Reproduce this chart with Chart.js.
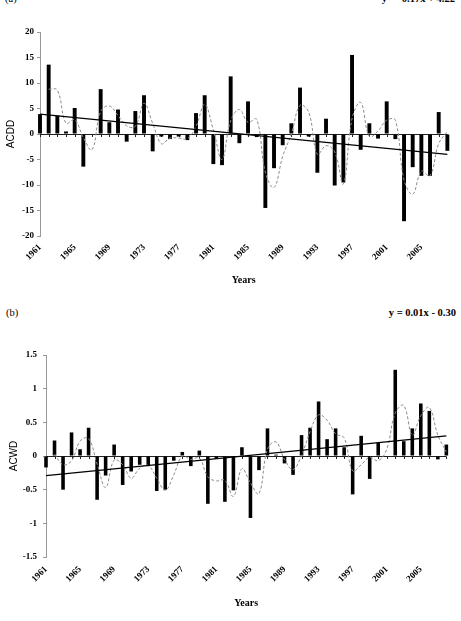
<!DOCTYPE html>
<html>
<head>
<meta charset="utf-8">
<script src="https://cdn.jsdelivr.net/npm/chart.js@4/dist/chart.umd.min.js"></script>
<style>
    body { margin: 0; background: #fff; }
    #page { position: relative; width: 461px; height: 621px; overflow: hidden; background: #fff; }
    canvas { position: absolute; left: 0; }
    .note { position: absolute; font-family: 'Liberation Serif', serif; font-size: 10.5px; color: #000; white-space: nowrap; }
</style>
</head>
<body>
<div id="page">
    <div class="note" style="left:5px; top:-7px;">(a)</div>
    <div class="note" style="right:6px; top:-7px; font-weight:bold;">y = -0.17x + 4.22</div>
    <canvas id="acddChart" width="461" height="300" style="top:0;"></canvas>

    <div class="note" style="left:6px; top:307px;">(b)</div>
    <div class="note" style="right:5px; top:307px; font-weight:bold;">y = 0.01x - 0.30</div>
    <canvas id="acwdChart" width="461" height="321" style="top:300px;"></canvas>
</div>
<script>
// Data
const years = ['1961', '1962', '1963', '1964', '1965', '1966', '1967', '1968', '1969', '1970',
    '1971', '1972', '1973', '1974', '1975', '1976', '1977', '1978', '1979', '1980',
    '1981', '1982', '1983', '1984', '1985', '1986', '1987', '1988', '1989', '1990',
    '1991', '1992', '1993', '1994', '1995', '1996', '1997', '1998', '1999', '2000',
    '2001', '2002', '2003', '2004', '2005', '2006', '2007', '2008'];

// (a) ACDD anomalies
const acdd = [3.9, 13.6, 3.6, 0.5, 5.1, -6.4, 0, 8.8, 2.3, 4.8,
    -1.5, 4.5, 7.6, -3.4, -0.5, -1.0, -0.5, -1.2, 4.1, 7.6,
    -5.9, -6.1, 11.3, -1.8, 6.4, -0.6, -14.5, -6.7, -2.2, 2.1,
    9.1, -0.5, -7.6, 3.0, -10.1, -9.5, 15.5, -3.1, 2.1, -0.9,
    6.4, -1.0, -17.1, -6.5, -8.2, -8.2, 4.3, -3.3];
const acddSmooth = [null, 8.8, 8.6, 2.1, 2.8, -0.7, -3.1, 4.4, 5.5, 3.6,
    1.6, 1.5, 6.0, 2.1, -1.9, -0.8, -0.8, -0.9, 1.5, 5.8,
    0.8, -5.0, 2.6, 4.8, 2.3, 2.9, -7.5, -10.5, -4.4, 0.0,
    5.6, 4.3, -4.0, -2.3, -3.5, -9.8, 3.0, 6.2, -0.5, 0.6,
    2.7, 2.7, -9.0, -11.8, -7.3, -8.2, -1.9, 0.5];
const acddTrendEnds = [3.9, -4.0];

// (b) ACWD anomalies
const acwd = [-0.17, 0.23, -0.5, 0.35, 0.1, 0.42, -0.65, -0.29, 0.17, -0.43,
    -0.23, -0.13, -0.15, -0.52, -0.5, -0.07, 0.06, -0.15, 0.08, -0.71,
    -0.04, -0.68, -0.51, 0.13, -0.92, -0.21, 0.41, 0.02, -0.11, -0.28,
    0.31, 0.42, 0.81, 0.25, 0.41, 0.13, -0.57, 0.3, -0.34, 0.2,
    0.0, 1.28, 0.22, 0.41, 0.78, 0.67, -0.05, 0.17];
const acwdSmooth = [null, 0.03, -0.13, -0.07, 0.22, 0.26, -0.12, -0.47, -0.06, -0.13,
    -0.33, -0.18, -0.14, -0.33, -0.51, -0.28, 0.0, -0.05, -0.03, -0.31,
    -0.37, -0.36, -0.6, -0.19, -0.4, -0.56, 0.1, 0.21, -0.05, -0.2,
    0.01, 0.36, 0.61, 0.53, 0.33, 0.27, -0.22, -0.13, -0.02, -0.07,
    0.1, 0.64, 0.75, 0.31, 0.6, 0.72, 0.31, 0.06];
const acwdTrendEnds = [-0.29, 0.30];

const tickFont = { family: 'Liberation Serif', size: 9, weight: 'bold' };

// zero line with small year ticks, like the category axis in the original
const zeroLinePlugin = {
    id: 'zeroLine',
    beforeDatasetsDraw(chart) {
        const { ctx, chartArea, scales } = chart;
        const y0 = Math.round(scales.y.getPixelForValue(0)) + 0.5;
        ctx.save();
        ctx.strokeStyle = '#222';
        ctx.lineWidth = 1;
        ctx.beginPath();
        ctx.moveTo(chartArea.left, y0);
        ctx.lineTo(chartArea.right, y0);
        for (let i = 0; i < years.length; i++) {
            const x = Math.round(scales.x.getPixelForValue(i)) + 0.5;
            ctx.moveTo(x, y0);
            ctx.lineTo(x, y0 + 2.5);
        }
        ctx.stroke();
        ctx.restore();
    }
};

function makeChart(canvasId, opts) {
    const n = years.length;
    return new Chart(document.getElementById(canvasId), {
        type: 'bar',
        data: {
            labels: years,
            datasets: [
                {
                    type: 'line',
                    data: [{ x: years[0], y: opts.trend[0] }, { x: years[n - 1], y: opts.trend[1] }],
                    borderColor: '#000',
                    borderWidth: 1.3,
                    pointRadius: 0,
                    order: 0
                },
                {
                    type: 'line',
                    data: opts.smooth,
                    borderColor: '#8c8c8c',
                    borderWidth: 1,
                    borderDash: [3, 2],
                    tension: 0.4,
                    pointRadius: 0,
                    order: 1
                },
                {
                    data: opts.values,
                    backgroundColor: '#000',
                    barPercentage: opts.barPct,
                    categoryPercentage: 1,
                    clip: false,
                    order: 2
                }
            ]
        },
        options: {
            responsive: false,
            animation: false,
            layout: { padding: opts.padding },
            plugins: {
                legend: { display: false },
                tooltip: { enabled: false }
            },
            scales: {
                x: {
                    offset: false,
                    grid: { display: false, drawTicks: false },
                    border: { display: false },
                    ticks: {
                        autoSkip: false,
                        maxRotation: 45,
                        minRotation: 45,
                        padding: opts.xTickPad,
                        color: '#000',
                        font: tickFont,
                        callback: (v, i) => (i % 4 === 0 ? years[i] : '')
                    },
                    title: {
                        display: true,
                        text: 'Years',
                        color: '#000',
                        font: { family: 'Liberation Serif', size: 10, weight: 'bold' },
                        padding: { top: 0, bottom: opts.xTitlePad }
                    },
                    afterFit: scale => { scale.height = opts.xHeight; }
                },
                y: {
                    min: opts.min,
                    max: opts.max,
                    grid: { drawOnChartArea: false, drawTicks: true, tickLength: 3, color: '#999' },
                    border: { display: true, color: '#999', width: 1 },
                    ticks: {
                        stepSize: opts.step,
                        padding: opts.yTickPad,
                        color: '#000',
                        font: tickFont,
                        callback: v => String(v)
                    },
                    title: {
                        display: true,
                        text: opts.yTitle,
                        color: '#000',
                        font: { family: 'Liberation Sans', size: 10 },
                        padding: { top: opts.yTitlePad, bottom: 0 }
                    },
                    afterFit: scale => { scale.width = opts.yWidth; }
                }
            }
        },
        plugins: [zeroLinePlugin]
    });
}

const acddChart = makeChart('acddChart', {
    values: acdd, smooth: acddSmooth, trend: acddTrendEnds,
    min: -20, max: 20, step: 5, yTitle: 'ACDD',
    padding: { top: 32, right: 8, left: 0, bottom: 0 },
    yWidth: 40, xHeight: 64, barPct: 0.45,
    xTickPad: 6, xTitlePad: 14, yTickPad: 3, yTitlePad: 5
});

const acwdChart = makeChart('acwdChart', {
    values: acwd, smooth: acwdSmooth, trend: acwdTrendEnds,
    min: -1.5, max: 1.5, step: 0.5, yTitle: 'ACWD',
    padding: { top: 55, right: 8, left: 0, bottom: 0 },
    yWidth: 46, xHeight: 64, barPct: 0.42,
    xTickPad: 7, xTitlePad: 12, yTickPad: 6, yTitlePad: 8
});
</script>
</body>
</html>
